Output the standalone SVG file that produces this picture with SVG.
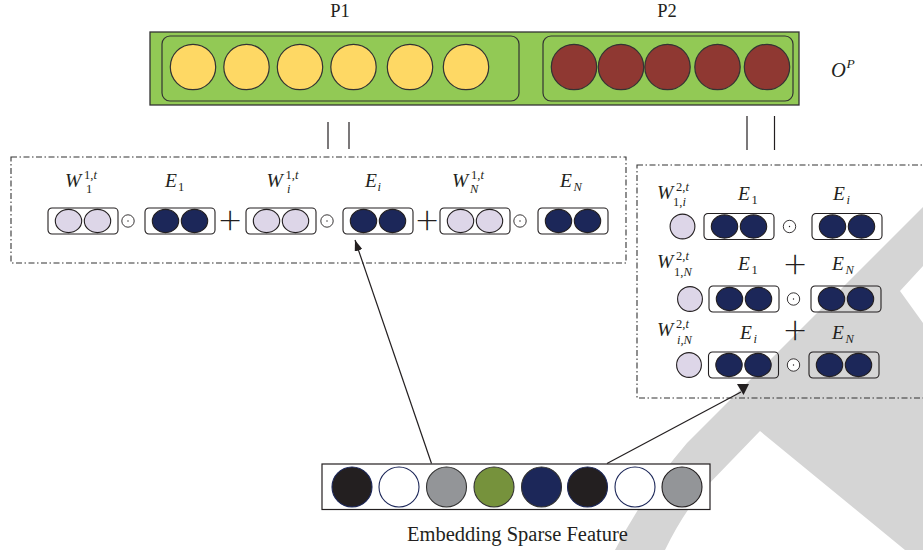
<svg xmlns="http://www.w3.org/2000/svg" width="923" height="550" viewBox="0 0 923 550">
  <defs>
    <style>
      .t{font-family:"Liberation Serif","Times New Roman",serif;fill:#231f20}
      .m{font-style:italic}
      .lg{font-size:19.5px}
      .sm{font-size:12.5px}
      .op{font-family:Lato,"Liberation Sans",sans-serif;font-weight:300;font-size:40px;fill:#231f20}
      .hdr{font-size:18.5px}
      .bar{fill:#92c955;stroke:#333;stroke-width:1.3}
      .slot{fill:none;stroke:#333;stroke-width:1.2}
      .yel{fill:#fed864;stroke:#333;stroke-width:1.2}
      .red{fill:#8f3832;stroke:#333;stroke-width:1.2}
      .frame{fill:none;stroke:#333;stroke-width:1.1;stroke-dasharray:6 2.5 1.5 2.5}
      .vec{fill:none;stroke:#231f20;stroke-width:1.1}
      .lav{fill:#ddd6e8;stroke:#231f20;stroke-width:1.1}
      .nav{fill:#1c2759;stroke:#231f20;stroke-width:1.1}
      .dotop{fill:#fff;stroke:#231f20;stroke-width:0.9}
      .link{stroke:#231f20;stroke-width:1.2;fill:none}
      .mark{fill:#d5d5d5}
    </style>
    <!-- two-slot weight vector -->
    <g id="vecW">
      <rect class="vec" x="0" y="0" width="70" height="26" rx="4"/>
      <ellipse class="lav" cx="20.5" cy="13" rx="13.2" ry="11.6"/>
      <ellipse class="lav" cx="49.5" cy="13" rx="13.2" ry="11.6"/>
    </g>
    <!-- two-slot embedding vector -->
    <g id="vecE">
      <rect class="vec" x="0" y="0" width="70" height="26" rx="4"/>
      <ellipse class="nav" cx="20.5" cy="13" rx="13.2" ry="11.6"/>
      <ellipse class="nav" cx="49.5" cy="13" rx="13.2" ry="11.6"/>
    </g>
    <!-- element-wise product operator -->
    <g id="odot">
      <circle class="dotop" cx="0" cy="0" r="6.2"/>
      <circle cx="0" cy="0" r="0.7" fill="#231f20"/>
    </g>
    <marker id="head" viewBox="0 0 11 8" refX="11" refY="4" markerWidth="11" markerHeight="8" markerUnits="userSpaceOnUse" orient="auto">
      <path d="M0,0 L11,4 L0,8 Z" fill="#231f20"/>
    </marker>
    <marker id="headDown" viewBox="0 0 12 11" refX="4" refY="8" markerWidth="12" markerHeight="11" markerUnits="userSpaceOnUse" orient="0">
      <path d="M0,0 L12,0 L6.5,11 Z" fill="#231f20"/>
    </marker>
  </defs>

  <rect width="923" height="550" fill="#fff"/>

  <!-- light grey background mark -->
  <path class="mark" d="M923,207 L793,337 L687,443 Q645,492 615,550 L665,550 Q682,515 703,490 L760,431 L905,550 L923,550 L923,323 L900,291 L923,266 Z"/>

  <!-- output layer O^P with the two pooled parts -->
  <g id="output-layer">
    <rect class="bar" x="150" y="32" width="649" height="73"/>
    <g id="p1">
      <rect class="slot" x="162" y="36" width="357" height="65" rx="8"/>
      <circle class="yel" cx="193" cy="67" r="22.7"/>
      <circle class="yel" cx="246.5" cy="67" r="22.7"/>
      <circle class="yel" cx="300" cy="67" r="22.7"/>
      <circle class="yel" cx="353.5" cy="67" r="22.7"/>
      <circle class="yel" cx="410" cy="67" r="22.7"/>
      <circle class="yel" cx="466" cy="67" r="22.7"/>
      <text class="t hdr" x="340" y="17" text-anchor="middle">P1</text>
    </g>
    <g id="p2">
      <rect class="slot" x="543" y="36" width="250" height="65" rx="8"/>
      <circle class="red" cx="574" cy="67" r="22.7"/>
      <circle class="red" cx="621" cy="67" r="22.7"/>
      <circle class="red" cx="667.5" cy="67" r="22.7"/>
      <circle class="red" cx="717.5" cy="67" r="22.7"/>
      <circle class="red" cx="767" cy="67" r="22.7"/>
      <text class="t hdr" x="667" y="17" text-anchor="middle">P2</text>
    </g>
    <text class="t m" x="831" y="77" font-size="20.5">O</text>
    <text class="t m" x="846.5" y="68" font-size="13.5">P</text>
  </g>

  <!-- first-order interaction terms -->
  <g id="first-order">
    <rect class="frame" x="11" y="157" width="615" height="106"/>
    <use href="#vecW" x="48" y="208"/>
    <use href="#odot" x="128" y="221"/>
    <use href="#vecE" x="145" y="208"/>
    <text class="op" x="230" y="234" text-anchor="middle">+</text>
    <use href="#vecW" x="246" y="208"/>
    <use href="#odot" x="327" y="221"/>
    <use href="#vecE" x="343" y="208"/>
    <text class="op" x="427" y="234" text-anchor="middle">+</text>
    <use href="#vecW" x="440" y="208"/>
    <use href="#odot" x="520" y="221"/>
    <use href="#vecE" x="538" y="208"/>

    <text class="t m lg" x="65" y="187">W</text>
    <text class="t sm" x="84" y="178.5">1,<tspan class="m">t</tspan></text>
    <text class="t sm" x="86" y="193">1</text>
    <text class="t m lg" x="165" y="187">E</text>
    <text class="t sm" x="178" y="191">1</text>

    <text class="t m lg" x="266.5" y="187">W</text>
    <text class="t sm" x="285.5" y="178.5">1,<tspan class="m">t</tspan></text>
    <text class="t m sm" x="287" y="193">i</text>
    <text class="t m lg" x="365" y="187">E</text>
    <text class="t m sm" x="377.5" y="191">i</text>

    <text class="t m lg" x="452" y="187">W</text>
    <text class="t sm" x="471" y="178.5">1,<tspan class="m">t</tspan></text>
    <text class="t m sm" x="470" y="193">N</text>
    <text class="t m lg" x="560" y="187">E</text>
    <text class="t m sm" x="573.5" y="191">N</text>
  </g>

  <!-- second-order interaction terms -->
  <g id="second-order">
    <rect class="frame" x="637" y="165" width="300" height="233"/>
    <!-- row 1 -->
    <circle class="lav" cx="682.5" cy="226.5" r="12.4"/>
    <use href="#vecE" x="704" y="213.5"/>
    <use href="#odot" x="789.5" y="226.5"/>
    <use href="#vecE" x="812" y="213.5"/>
    <text class="t m lg" x="657" y="199">W</text>
    <text class="t sm" x="676" y="191">2,<tspan class="m">t</tspan></text>
    <text class="t sm" x="673" y="206">1,<tspan class="m">i</tspan></text>
    <text class="t m lg" x="738" y="200">E</text>
    <text class="t sm" x="751.5" y="204">1</text>
    <text class="t m lg" x="833" y="200">E</text>
    <text class="t m sm" x="846.5" y="204">i</text>
    <!-- row 2 -->
    <circle class="lav" cx="690" cy="299" r="12.4"/>
    <use href="#vecE" x="709" y="286"/>
    <use href="#odot" x="793.5" y="299"/>
    <use href="#vecE" x="811" y="286"/>
    <text class="t m lg" x="657" y="268">W</text>
    <text class="t sm" x="676" y="260">2,<tspan class="m">t</tspan></text>
    <text class="t sm" x="674" y="276">1,<tspan class="m">N</tspan></text>
    <text class="t m lg" x="738" y="270">E</text>
    <text class="t sm" x="751.5" y="274">1</text>
    <text class="op" x="795" y="278" text-anchor="middle">+</text>
    <text class="t m lg" x="832" y="270">E</text>
    <text class="t m sm" x="845.5" y="274">N</text>
    <!-- row 3 -->
    <circle class="lav" cx="689" cy="365" r="12.4"/>
    <use href="#vecE" x="708.5" y="352"/>
    <use href="#odot" x="793.5" y="365"/>
    <use href="#vecE" x="809" y="352"/>
    <text class="t m lg" x="657" y="336">W</text>
    <text class="t sm" x="676" y="328">2,<tspan class="m">t</tspan></text>
    <text class="t m sm" x="677" y="344">i,N</text>
    <text class="t m lg" x="740" y="339">E</text>
    <text class="t m sm" x="753.5" y="343">i</text>
    <text class="op" x="795" y="344" text-anchor="middle">+</text>
    <text class="t m lg" x="832" y="339">E</text>
    <text class="t m sm" x="845.5" y="343">N</text>
  </g>

  <!-- sparse feature embeddings -->
  <g id="embedding">
    <rect x="322" y="464" width="388" height="45.5" fill="#fff" stroke="#231f20" stroke-width="1.2"/>
    <circle cx="352" cy="487" r="20" fill="#231f20" stroke="#1c2759" stroke-width="1.1"/>
    <circle cx="399" cy="487" r="20" fill="#fff" stroke="#1c2759" stroke-width="1.1"/>
    <circle cx="446.5" cy="487" r="20" fill="#939598" stroke="#333" stroke-width="1.1"/>
    <circle cx="494" cy="487" r="20" fill="#76923c" stroke="#333" stroke-width="1.1"/>
    <circle cx="541.5" cy="487" r="20" fill="#1c2759" stroke="#333" stroke-width="1.1"/>
    <circle cx="587.5" cy="487" r="20" fill="#231f20" stroke="#1c2759" stroke-width="1.1"/>
    <circle cx="635" cy="487" r="20" fill="#fff" stroke="#1c2759" stroke-width="1.1"/>
    <circle cx="682" cy="487" r="20" fill="#939598" stroke="#231f20" stroke-width="1.1"/>
    <text class="t" x="517.5" y="541" font-size="20.5" text-anchor="middle">Embedding Sparse Feature</text>
  </g>

  <!-- connectors -->
  <g id="connectors">
    <line class="link" x1="328" y1="122" x2="328" y2="149"/>
    <line class="link" x1="349" y1="122" x2="349" y2="149"/>
    <line class="link" x1="747" y1="116" x2="747" y2="150"/>
    <line class="link" x1="774.5" y1="116" x2="774.5" y2="150"/>
    <line class="link" x1="431.5" y1="463.5" x2="355" y2="240" marker-end="url(#head)"/>
    <line class="link" x1="607" y1="463.5" x2="741" y2="392" marker-end="url(#headDown)"/>
  </g>
</svg>
